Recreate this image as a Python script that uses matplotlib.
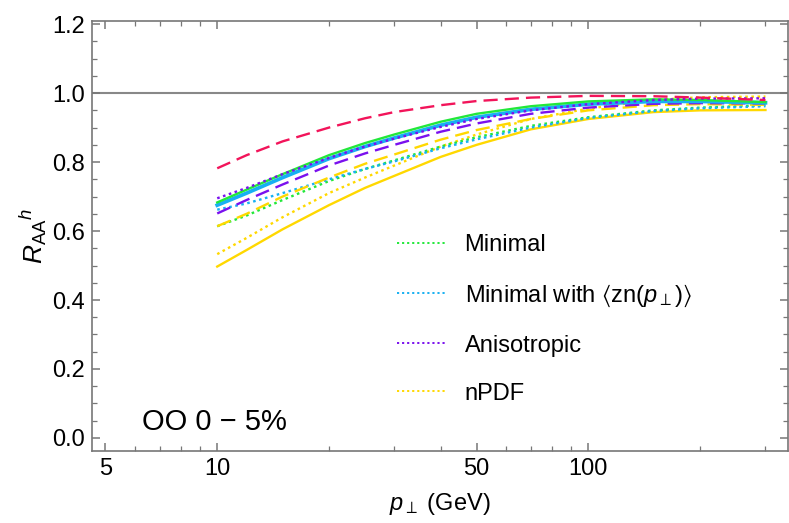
import numpy as np
import matplotlib
matplotlib.use("Agg")
import matplotlib.pyplot as plt
from matplotlib.lines import Line2D
from matplotlib.ticker import FixedLocator, NullFormatter, MultipleLocator

# -------------------------------
# DATA
# -------------------------------
pt = [10, 12, 15, 20, 25, 30, 40, 50, 70, 100, 150, 200, 300]

red_dashed = [0.782, 0.82, 0.86, 0.90, 0.927, 0.945, 0.965, 0.977, 0.987, 0.992, 0.991, 0.987, 0.980]
green_solid = [0.683, 0.72, 0.765, 0.82, 0.855, 0.88, 0.917, 0.940, 0.962, 0.976, 0.982, 0.980, 0.974]
blue_solid = [0.675, 0.71, 0.755, 0.81, 0.845, 0.870, 0.907, 0.930, 0.953, 0.968, 0.976, 0.976, 0.972]
purple_dotted = [0.695, 0.725, 0.765, 0.812, 0.845, 0.868, 0.902, 0.925, 0.950, 0.968, 0.980, 0.984, 0.985]
purple_dashed = [0.651, 0.69, 0.735, 0.79, 0.825, 0.850, 0.888, 0.912, 0.940, 0.958, 0.969, 0.971, 0.970]
yellow_dashed = [0.614, 0.65, 0.70, 0.755, 0.795, 0.822, 0.865, 0.893, 0.925, 0.950, 0.965, 0.968, 0.966]
green_dotted = [0.614, 0.645, 0.69, 0.745, 0.78, 0.805, 0.845, 0.872, 0.905, 0.930, 0.950, 0.958, 0.965]
blue_dotted = [0.662, 0.68, 0.71, 0.75, 0.78, 0.802, 0.840, 0.866, 0.900, 0.928, 0.948, 0.956, 0.962]
yellow_dotted = [0.533, 0.58, 0.64, 0.71, 0.755, 0.79, 0.845, 0.88, 0.925, 0.955, 0.980, 0.988, 0.990]
yellow_solid = [0.497, 0.545, 0.605, 0.675, 0.725, 0.76, 0.815, 0.85, 0.895, 0.925, 0.945, 0.950, 0.951]

legend_labels = ["Minimal", r"Minimal with $\langle$zn($p_{\perp}$)$\rangle$", "Anisotropic", "nPDF"]

x_major = [5, 10, 50, 100]
x_minor = [6, 7, 8, 9, 20, 30, 40, 60, 70, 80, 90, 200, 300]

# -------------------------------
# STYLE
# -------------------------------
GREEN = "#22e83a"
BLUE = "#18b0f2"
PURPLE = "#7a10ee"
YELLOW = "#ffd800"
RED = "#f2145a"
AXIS = "#777777"

plt.rcParams["font.family"] = ["Liberation Sans", "DejaVu Sans"]
plt.rcParams["mathtext.fontset"] = "custom"
plt.rcParams["mathtext.rm"] = "Liberation Sans"
plt.rcParams["mathtext.it"] = "Liberation Sans:italic"
plt.rcParams["mathtext.fallback"] = "stixsans"

fig = plt.figure(figsize=(7.89, 5.23), dpi=100)
ax = fig.add_axes([91.7 / 789, 1 - 450.7 / 523, (788 - 91.7) / 789, 430 / 523])

lw = 1.7
dash = (0, (6, 3))
dot = (0, (1.1, 1.5))

ax.axhline(1.0, color="#888888", lw=1.5, zorder=1)

ax.plot(pt, yellow_solid, color=YELLOW, lw=lw, ls="-")
ax.plot(pt, yellow_dotted, color=YELLOW, lw=lw, ls=dot)
ax.plot(pt, green_dotted, color=GREEN, lw=lw, ls=dot)
ax.plot(pt, blue_dotted, color=BLUE, lw=lw, ls=dot)
ax.plot(pt, yellow_dashed, color=YELLOW, lw=lw, ls=dash)
ax.plot(pt, purple_dashed, color=PURPLE, lw=lw, ls=dash)
ax.plot(pt, blue_solid, color=BLUE, lw=2.7, ls="-")
ax.plot(pt, green_solid, color=GREEN, lw=lw, ls="-")
ax.plot(pt, purple_dotted, color=PURPLE, lw=lw, ls=dot)
ax.plot(pt, red_dashed, color=RED, lw=lw, ls=dash)

# -------------------------------
# AXES
# -------------------------------
ax.set_xscale("log")
ax.set_xlim(4.59, 345)
ax.set_ylim(-0.037, 1.21)

ax.xaxis.set_major_locator(FixedLocator(x_major))
ax.xaxis.set_minor_locator(FixedLocator(x_minor))
ax.xaxis.set_minor_formatter(NullFormatter())
ax.set_xticklabels([str(v) for v in x_major])
ax.yaxis.set_major_locator(MultipleLocator(0.2))
ax.yaxis.set_minor_locator(MultipleLocator(0.05))
ax.yaxis.set_major_formatter(plt.FuncFormatter(lambda v, p: f"{v:.1f}"))

for s in ax.spines.values():
    s.set_color(AXIS)
    s.set_linewidth(1.2)
ax.tick_params(which="both", direction="in", top=True, right=True, color=AXIS, labelsize=17, pad=5)
ax.tick_params(which="major", length=6, width=1.1)
ax.tick_params(which="minor", length=3.5, width=0.9)

ax.set_xlabel(r"$p_{\perp}$ (GeV)", fontsize=17, labelpad=8)
ax.set_ylabel(r"$R_{\mathrm{AA}}{}^{h}$", fontsize=19, labelpad=2)

ax.text(0.072, 0.035, "OO 0 − 5%", transform=ax.transAxes, fontsize=21, va="bottom", ha="left")

handles = [Line2D([], [], color=c, lw=1.4, ls=dot) for c in [GREEN, BLUE, PURPLE, YELLOW]]
ax.legend(handles, legend_labels, loc="upper left", bbox_to_anchor=(0.4385, 0.503),
          frameon=False, fontsize=17, handlelength=2.1, handletextpad=0.76,
          labelspacing=1.1, borderpad=0, borderaxespad=0)

fig.savefig("out.png", dpi=100)
